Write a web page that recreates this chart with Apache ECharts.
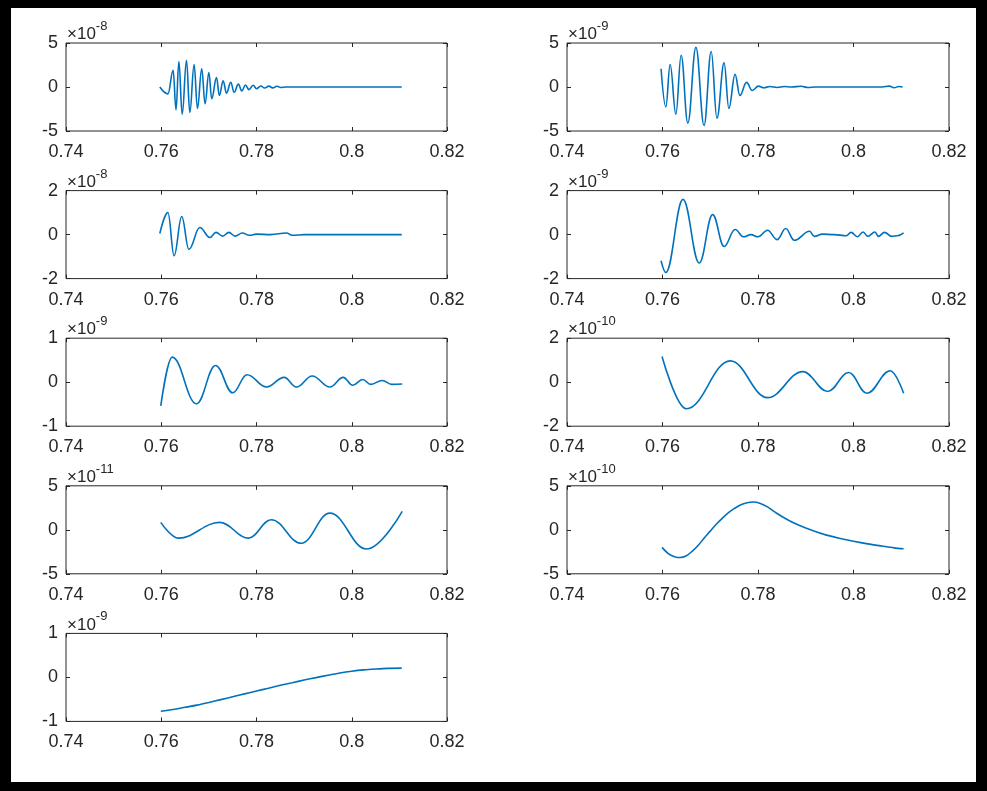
<!DOCTYPE html>
<html><head><meta charset="utf-8">
<script src="https://cdn.jsdelivr.net/npm/echarts@6/dist/echarts.min.js"></script>
<style>html,body{margin:0;padding:0;background:#fff}#c{width:987px;height:791px}</style>
</head><body><div id="c"></div>
<script>
// x ticks (shared)
const xTicks = [0.74, 0.76, 0.78, 0.8, 0.82];
// exponent of each panel's y scale (×10^n)
const exponents = [-8, -9, -8, -9, -9, -10, -11, -10, -9];
// y-limit (symmetric) of each panel, in units of 10^n
const yLimits = [5, 5, 2, 2, 1, 2, 5, 5, 1];

// panel 1 (×1e-8)
const s1 = [[0.7597,0],[0.7614,-0.78],[0.7625,1.9],[0.7631,-2.6],[0.7637,2.9],[0.7644,-3.1],[0.7653,3.03],[0.7660,-2.9],[0.7669,2.55],[0.7676,-2.44],[0.7685,2.07],[0.7692,-1.9],[0.7700,1.63],[0.7706,-1.33],[0.7716,1.07],[0.7722,-0.96],[0.7730,0.7],[0.7737,-0.7],[0.7746,0.52],[0.7753,-0.6],[0.7762,0.33],[0.7769,-0.44],[0.7777,0.22],[0.7784,-0.3],[0.7793,0.2],[0.7800,-0.2],[0.7809,0.12],[0.7817,-0.12],[0.7826,0.1],[0.7834,-0.1],[0.7843,0.08],[0.7851,-0.05],[0.7860,0],[0.8105,0]];
// panel 2 (×1e-9)
const s2 = [[0.7597,2.07],[0.7607,-2.26],[0.7616,2.55],[0.7628,-3.1],[0.7639,3.6],[0.7653,-4.1],[0.7670,4.5],[0.7687,-4.37],[0.7702,4.04],[0.7714,-3.55],[0.7729,2.74],[0.7739,-2.44],[0.7752,1.44],[0.7762,-0.96],[0.7776,0.52],[0.7788,-0.4],[0.7801,0.1],[0.7812,-0.08],[0.7825,0.05],[0.7840,-0.05],[0.7855,0.05],[0.7870,0],[0.7890,0.08],[0.7905,-0.05],[0.7920,0],[0.8060,0],[0.8075,0.1],[0.8085,-0.08],[0.8095,0.05],[0.8103,0]];
// panel 3 (×1e-8)
const s3 = [[0.7597,0.05],[0.7614,1.0],[0.7627,-0.96],[0.7643,0.82],[0.7658,-0.67],[0.7681,0.32],[0.7702,-0.13],[0.7715,0.1],[0.7729,-0.07],[0.7742,0.1],[0.7755,-0.07],[0.7770,0.07],[0.7785,-0.03],[0.7800,0.02],[0.7830,0],[0.7863,0.07],[0.7875,-0.03],[0.7900,0],[0.8105,0]];
// panel 4 (×1e-9)
const s4 = [[0.7597,-1.19],[0.7607,-1.72],[0.7643,1.6],[0.7677,-1.29],[0.7705,0.91],[0.7729,-0.54],[0.7752,0.23],[0.7770,-0.10],[0.7785,0.0],[0.7800,-0.1],[0.7820,0.2],[0.7840,-0.23],[0.7858,0.28],[0.7876,-0.26],[0.7908,0.15],[0.7918,-0.08],[0.7935,0.02],[0.7960,0.0],[0.7985,-0.05],[0.7995,0.1],[0.8008,-0.1],[0.8020,0.12],[0.8030,-0.08],[0.8045,0.12],[0.8052,-0.08],[0.8065,0.1],[0.8080,-0.08],[0.8092,-0.05],[0.8105,0.08]];
// panel 5 (×1e-9)
const s5 = [[0.7599,-0.54],[0.7623,0.57],[0.7674,-0.49],[0.7714,0.38],[0.7750,-0.24],[0.7780,0.17],[0.7821,-0.11],[0.7858,0.11],[0.7884,-0.11],[0.7917,0.14],[0.7954,-0.11],[0.7982,0.11],[0.8002,-0.07],[0.8023,0.06],[0.8040,-0.05],[0.8064,0.04],[0.8084,-0.05],[0.8106,-0.04]];
// panel 6 (×1e-10)
const s6 = [[0.7599,1.17],[0.7650,-1.21],[0.7742,0.97],[0.7820,-0.70],[0.7894,0.48],[0.7946,-0.42],[0.7990,0.44],[0.8028,-0.5],[0.8077,0.52],[0.8105,-0.5]];
// panel 7 (×1e-11)
const s7 = [[0.7599,0.84],[0.7636,-0.95],[0.7723,0.84],[0.7783,-0.95],[0.7831,1.15],[0.7894,-1.53],[0.7954,1.9],[0.8031,-2.18],[0.8106,2.1]];
// panel 8 (×1e-10)
const s8 = [[0.7599,-2.0],[0.7612,-2.7],[0.7625,-3.05],[0.7637,-3.15],[0.7650,-2.95],[0.7662,-2.45],[0.7675,-1.75],[0.7687,-0.95],[0.7700,-0.15],[0.7712,0.6],[0.7725,1.3],[0.7737,1.9],[0.7750,2.4],[0.7762,2.8],[0.7775,3.05],[0.7790,3.16],[0.7805,3.0],[0.7820,2.6],[0.7840,1.85],[0.7860,1.2],[0.7880,0.65],[0.7900,0.2],[0.7920,-0.2],[0.7940,-0.55],[0.7970,-0.95],[0.8000,-1.3],[0.8030,-1.6],[0.8060,-1.85],[0.8085,-2.05],[0.8105,-2.15]];
// panel 9 (×1e-9)
const s9 = [[0.7599,-0.77],[0.7625,-0.73],[0.765,-0.68],[0.7675,-0.63],[0.770,-0.57],[0.7725,-0.505],[0.775,-0.44],[0.7775,-0.375],[0.780,-0.31],[0.7825,-0.245],[0.785,-0.18],[0.7875,-0.12],[0.790,-0.06],[0.7925,-0.005],[0.795,0.05],[0.7975,0.10],[0.800,0.14],[0.8025,0.17],[0.805,0.19],[0.8075,0.205],[0.8105,0.21]];

const seriesData = [s1, s2, s3, s4, s5, s6, s7, s8, s9];
const smoothness = [0.4, 0.4, 0.4, 0.4, 0.4, 0.4, 0.4, 0.3, 0.3];
const monotone = ['x', 'x', 'x', 'x', 'x', 'x', 'x', null, null];

const FONT = 'Liberation Sans';
const TXT = '#262626';
const grids = [], xAxes = [], yAxes = [], series = [];
seriesData.forEach((d, i) => {
  const col = i % 2, row = Math.floor(i / 2);
  grids.push({left: col ? 567 : 66, width: col ? 382 : 381, top: 43 + row * 147.6, height: 88,
    show: true, borderColor: TXT, borderWidth: 1, backgroundColor: '#fff'});
  const lim = yLimits[i];
  const tick = {show: true, inside: true, length: 4, lineStyle: {color: TXT, width: 1}};
  const xb = {gridIndex: i, type: 'value', min: xTicks[0], max: xTicks[xTicks.length - 1],
    interval: xTicks[1] - xTicks[0], splitLine: {show: false}, axisLine: {show: false, onZero: false}};
  xAxes.push(Object.assign({}, xb, {position: 'bottom', axisTick: tick,
    axisLabel: {show: true, margin: 12, fontFamily: FONT, fontSize: 18, color: TXT}}));
  xAxes.push(Object.assign({}, xb, {position: 'top', axisTick: tick, axisLabel: {show: false}}));
  const yb = {gridIndex: i, type: 'value', min: -lim, max: lim, interval: lim,
    splitLine: {show: false}, axisLine: {show: false, onZero: false}};
  yAxes.push(Object.assign({}, yb, {position: 'left', axisTick: tick,
    axisLabel: {show: true, margin: 8, fontFamily: FONT, fontSize: 18, color: TXT},
    name: '{a|×10}{b|' + exponents[i] + '}', nameLocation: 'end', nameGap: 0,
    nameTextStyle: {align: 'left', verticalAlign: 'bottom', padding: [0, 0, 0, 1],
      rich: {a: {fontFamily: FONT, fontSize: 17, color: TXT, lineHeight: 17, verticalAlign: 'bottom'},
             b: {fontFamily: FONT, fontSize: 13, color: TXT, lineHeight: 13, verticalAlign: 'bottom', padding: [0, 0, 10, 0]}}}}));
  yAxes.push(Object.assign({}, yb, {position: 'right', axisTick: tick, axisLabel: {show: false}}));
  const s = {type: 'line', xAxisIndex: 2 * i, yAxisIndex: 2 * i, data: d,
    showSymbol: false, smooth: smoothness[i],
    lineStyle: {color: '#0072BD', width: 1.6}, z: 3};
  if (monotone[i]) s.smoothMonotone = monotone[i];
  series.push(s);
});

const chart = echarts.init(document.getElementById('c'), null, {renderer: 'canvas'});
chart.setOption({
  animation: false,
  backgroundColor: '#fff',
  grid: grids, xAxis: xAxes, yAxis: yAxes, series: series,
  graphic: [
    {type: 'rect', left: 0, top: 0, shape: {width: 11, height: 791}, style: {fill: '#000'}},
    {type: 'rect', left: 0, top: 0, shape: {width: 987, height: 8}, style: {fill: '#000'}},
    {type: 'rect', left: 976, top: 0, shape: {width: 11, height: 791}, style: {fill: '#000'}},
    {type: 'rect', left: 0, top: 782, shape: {width: 987, height: 9}, style: {fill: '#000'}}
  ]
});
</script></body></html>
